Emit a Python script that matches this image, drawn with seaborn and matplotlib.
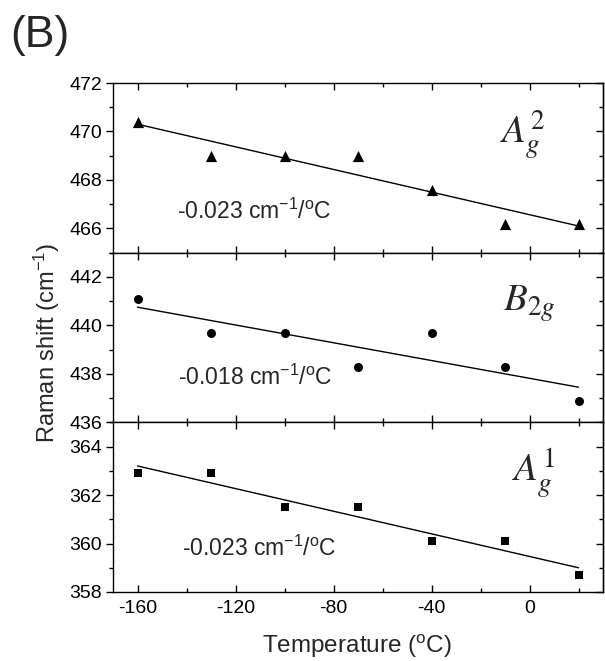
import numpy as np
import pandas as pd
import matplotlib
matplotlib.use("Agg")
import matplotlib.pyplot as plt
import seaborn as sns
from matplotlib.ticker import MultipleLocator

sns.set_theme(style="ticks")
plt.rcParams['font.family'] = ['Liberation Sans', 'DejaVu Sans']
plt.rcParams['mathtext.fontset'] = 'custom'
plt.rcParams['mathtext.rm'] = 'Liberation Sans'
plt.rcParams['mathtext.it'] = 'Liberation Sans:italic'
plt.rcParams['axes.unicode_minus'] = False

temperature = [-160, -130, -100, -70, -40, -10, 20]
shift_A2g = [470.4, 469.0, 469.0, 469.0, 467.6, 466.2, 466.2]
shift_B2g = [441.1, 439.7, 439.7, 438.3, 439.7, 438.3, 436.9]
shift_A1g = [362.9, 362.9, 361.5, 361.5, 360.1, 360.1, 358.7]

mode_labels = [r'$\mathit{A}_{\mathit{g}}^{2}$', r'$\mathit{B}_{2\mathit{g}}$', r'$\mathit{A}_{\mathit{g}}^{1}$']
slope_labels = [r'-0.023 cm$^{-1}$/$^{\mathrm{o}}$C', r'-0.018 cm$^{-1}$/$^{\mathrm{o}}$C', r'-0.023 cm$^{-1}$/$^{\mathrm{o}}$C']
markers = ['^', 'o', 's']
marker_sizes = [65, 42, 34]
ylims = [(465, 472), (436, 443), (358, 365)]
yticks = [[466, 468, 470, 472], [436, 438, 440, 442], [358, 360, 362, 364]]
label_pos = [(-3, 469.85), (0, 440.9), (1.5, 362.9)]
text_pos = [(-144, 466.4), (-143.5, 437.55), (-142, 359.5)]

series = [shift_A2g, shift_B2g, shift_A1g]

fig = plt.figure(figsize=(6.05, 6.61), dpi=100)
gs = fig.add_gridspec(3, 1, left=113/605, right=603/605, top=1-83/661, bottom=1-592/661, hspace=0)
axes = [fig.add_subplot(gs[i]) for i in range(3)]

for i, ax in enumerate(axes):
    df = pd.DataFrame({'T': temperature, 'shift': series[i]})
    sns.regplot(data=df, x='T', y='shift', ax=ax, scatter=False, ci=None, truncate=True,
                line_kws={'color': 'black', 'lw': 1.0})
    sns.scatterplot(data=df, x='T', y='shift', ax=ax, marker=markers[i], s=marker_sizes[i],
                    color='black', edgecolor='black', linewidth=0, zorder=3)
    ax.set_xlim(-170, 30)
    ax.set_ylim(*ylims[i])
    ax.set_yticks(yticks[i])
    ax.yaxis.set_minor_locator(MultipleLocator(1))
    ax.set_xticks([-160, -120, -80, -40, 0])
    ax.xaxis.set_minor_locator(MultipleLocator(20))
    ax.set_xlabel('')
    ax.set_ylabel('')
    for s in ax.spines.values():
        s.set_linewidth(1.0)
        s.set_color('black')
    ax.tick_params(axis='y', which='both', left=True, right=False, direction='out', labelsize=14, colors='black', width=1.0, pad=3)
    ax.tick_params(axis='y', which='major', length=5)
    ax.tick_params(axis='y', which='minor', length=3)
    ax.tick_params(axis='x', which='both', bottom=True, top=True, direction='in', labelsize=14, colors='black', width=1.0, pad=6)
    ax.tick_params(axis='x', which='major', length=5)
    ax.tick_params(axis='x', which='minor', length=3)
    if i < 2:
        ax.tick_params(axis='x', labelbottom=False)
    sec = ax.secondary_yaxis('right')
    sec.set_yticks(yticks[i])
    sec.yaxis.set_minor_locator(MultipleLocator(1))
    sec.tick_params(which='both', direction='in', labelright=False, width=1.0, colors='black')
    sec.tick_params(which='major', length=5)
    sec.tick_params(which='minor', length=3)
    sec.spines['right'].set_linewidth(1.0)

    ax.text(label_pos[i][0], label_pos[i][1], mode_labels[i], ha='center', va='center',
            fontsize=28, math_fontfamily='stix')
    ax.text(text_pos[i][0], text_pos[i][1], slope_labels[i], ha='left', va='baseline', fontsize=16.5)

fig.text(47/605, 1-343/661, r'Raman shift (cm$^{-1}$)', rotation=90, ha='center', va='center', fontsize=17)
fig.text(357/605, 1-646/661, r'Temperature ($^{\mathrm{o}}$C)', ha='center', va='center', fontsize=17.5)
fig.text(40/605, 1-36/661, '(B)', ha='center', va='center', fontsize=32)

fig.savefig('out.png', dpi=100)
